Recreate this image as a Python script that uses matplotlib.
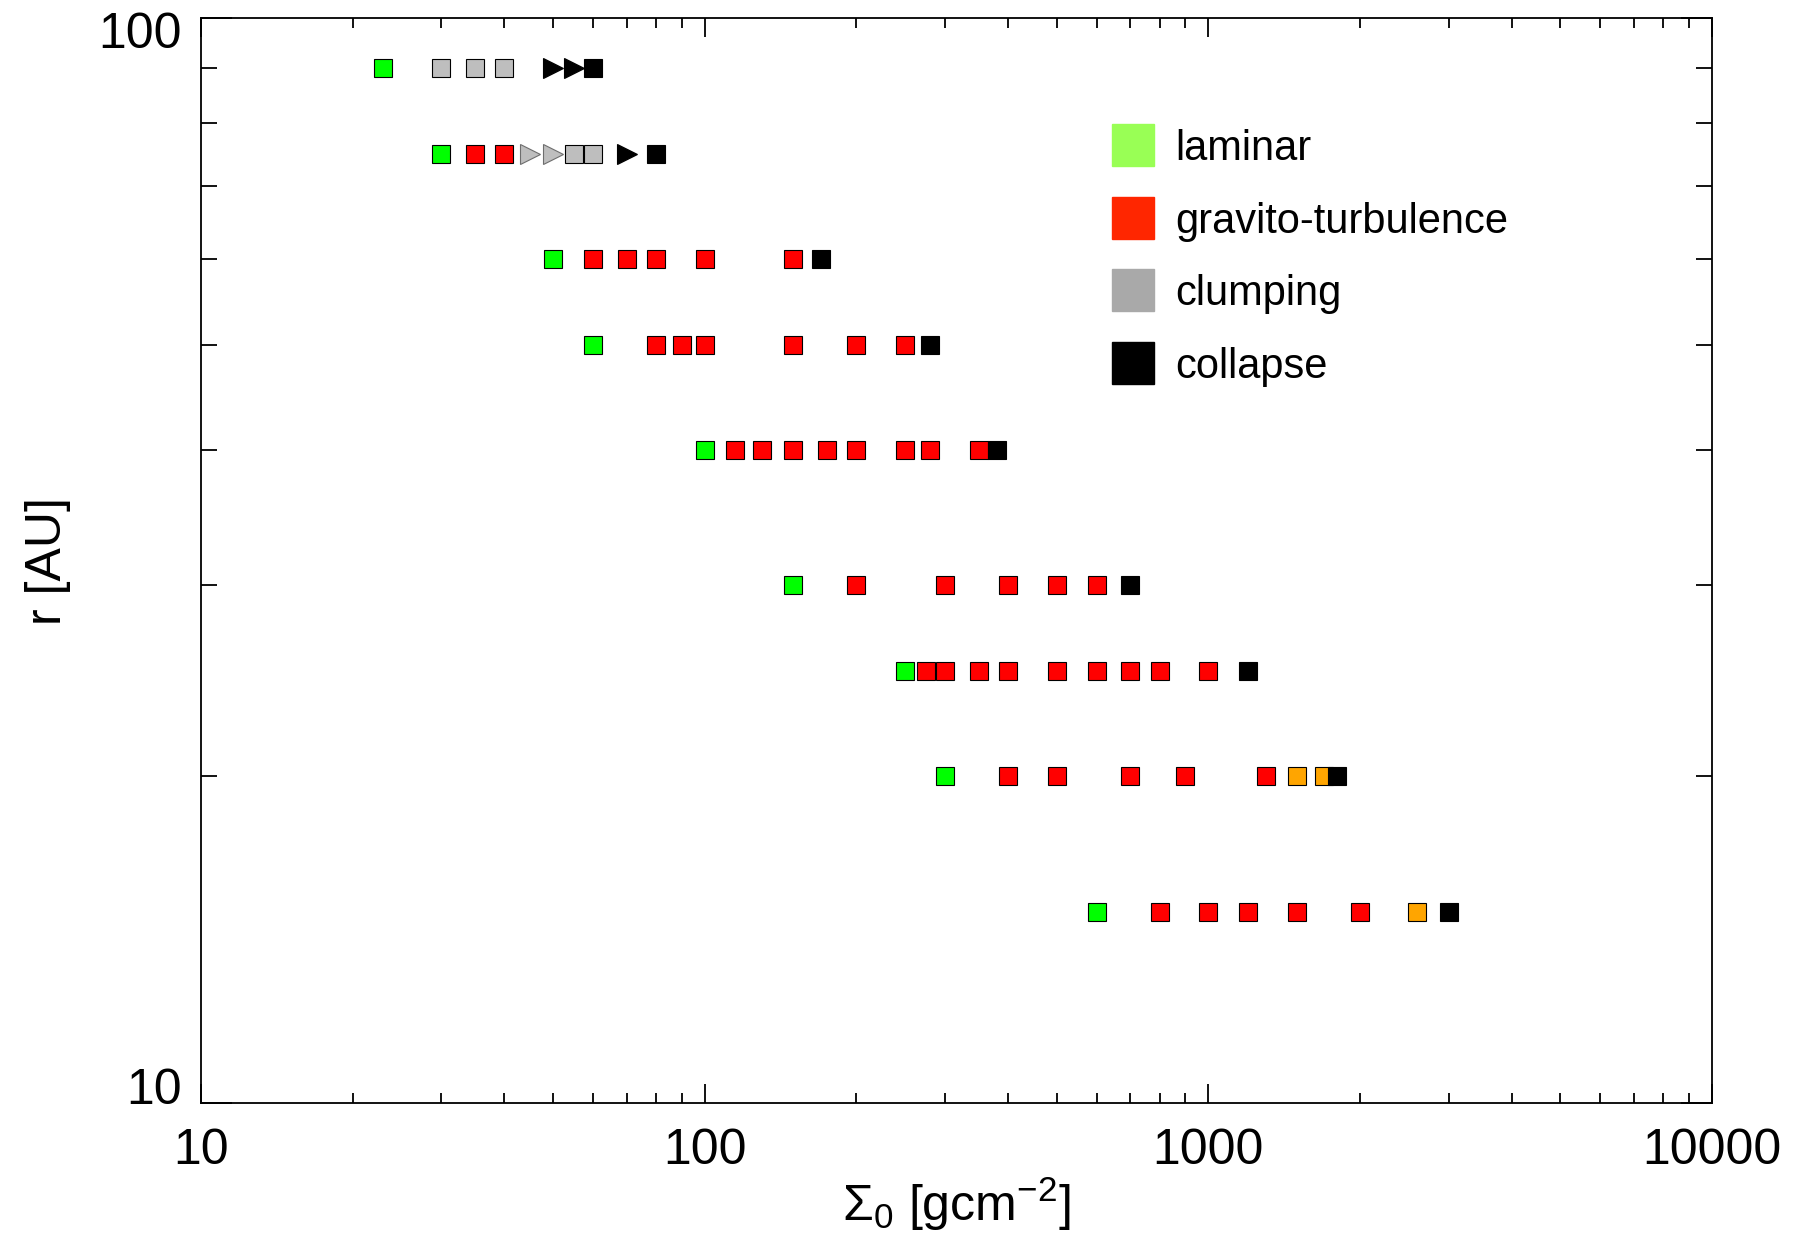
import matplotlib
matplotlib.use("Agg")
import matplotlib.pyplot as plt
import matplotlib.ticker as ticker
import matplotlib.transforms as mtransforms

plt.rcParams['font.family'] = ['Liberation Sans', 'DejaVu Sans']
plt.rcParams['mathtext.fontset'] = 'custom'
plt.rcParams['mathtext.rm'] = 'Liberation Sans'
plt.rcParams['mathtext.it'] = 'Liberation Sans'
plt.rcParams['mathtext.bf'] = 'Liberation Sans:bold'

# radii of the runs [AU]
r_rows = [90, 75, 60, 50, 40, 30, 25, 20, 15]

# surface densities per row and outcome
# L laminar, G gravito-turbulence, C clumping, X collapse, O orange
# suffix '>' = triangle marker
sigma_90 = [23, 30, 35, 40, 50, 55, 60]
state_90 = ['L', 'C', 'C', 'C', 'X>', 'X>', 'X']
sigma_75 = [30, 35, 40, 45, 50, 55, 60, 70, 80]
state_75 = ['L', 'G', 'G', 'C>', 'C>', 'C', 'C', 'X>', 'X']
sigma_60 = [50, 60, 70, 80, 100, 150, 170]
state_60 = ['L', 'G', 'G', 'G', 'G', 'G', 'X']
sigma_50 = [60, 80, 90, 100, 150, 200, 250, 280]
state_50 = ['L', 'G', 'G', 'G', 'G', 'G', 'G', 'X']
sigma_40 = [100, 115, 130, 150, 175, 200, 250, 280, 350, 380]
state_40 = ['L', 'G', 'G', 'G', 'G', 'G', 'G', 'G', 'G', 'X']
sigma_30 = [150, 200, 300, 400, 500, 600, 700]
state_30 = ['L', 'G', 'G', 'G', 'G', 'G', 'X']
sigma_25 = [250, 275, 300, 350, 400, 500, 600, 700, 800, 1000, 1200]
state_25 = ['L', 'G', 'G', 'G', 'G', 'G', 'G', 'G', 'G', 'G', 'X']
sigma_20 = [300, 400, 500, 700, 900, 1300, 1500, 1700, 1800]
state_20 = ['L', 'G', 'G', 'G', 'G', 'G', 'O', 'O', 'X']
sigma_15 = [600, 800, 1000, 1200, 1500, 2000, 2600, 3000]
state_15 = ['L', 'G', 'G', 'G', 'G', 'G', 'O', 'X']

sigma_rows = [sigma_90, sigma_75, sigma_60, sigma_50, sigma_40,
              sigma_30, sigma_25, sigma_20, sigma_15]
state_rows = [state_90, state_75, state_60, state_50, state_40,
              state_30, state_25, state_20, state_15]

colors = {'L': '#00ff00', 'G': '#ff0000', 'C': '#bebebe', 'X': '#000000', 'O': '#ffa500'}

legend_labels = ['laminar', 'gravito-turbulence', 'clumping', 'collapse']
legend_colors = ['#99ff55', '#ff2600', '#a9a9a9', '#000000']

fig = plt.figure(figsize=(18.03, 12.38), dpi=100)
ax = fig.add_axes([0.1115, 0.109, 0.838, 0.8765])

for r, sig, st in zip(r_rows, sigma_rows, state_rows):
    for s, code in zip(sig, st):
        c = colors[code[0]]
        if code.endswith('>'):
            ec = '#6e6e6e' if code[0] == 'C' else 'k'
            ax.plot(s, r, marker='>', ms=14, color=c, mec=ec, mew=0.8, ls='none')
        else:
            ax.plot(s, r, marker='s', ms=13.2, color=c, mec='k', mew=0.8, ls='none')

ax.set_xscale('log')
ax.set_yscale('log')
ax.set_xlim(10, 10000)
ax.set_ylim(10, 100)
ax.xaxis.set_major_formatter(ticker.FormatStrFormatter('%d'))
ax.yaxis.set_major_formatter(ticker.FormatStrFormatter('%d'))
ax.xaxis.set_minor_formatter(ticker.NullFormatter())
ax.yaxis.set_minor_formatter(ticker.NullFormatter())

ax.tick_params(which='both', direction='in', top=True, right=True, width=1.3,
               labelsize=36)
ax.tick_params(axis='x', which='major', length=14, pad=18)
ax.tick_params(axis='x', which='minor', length=7.2)
ax.tick_params(axis='y', which='major', length=22, pad=14)
ax.tick_params(axis='y', which='minor', length=11.5)
for sp in ax.spines.values():
    sp.set_linewidth(1.3)

ax.set_xlabel(r'$\Sigma_0$ [gcm$^{-2}$]', fontsize=36)
ax.set_ylabel('r [AU]', fontsize=36)
ax.xaxis.set_label_coords(0.5, -0.066)
ax.yaxis.set_label_coords(-0.086, 0.5)

# legend drawn by hand
leg_y = [0.8831, 0.8159, 0.7495, 0.6822]
for lab, col, yy in zip(legend_labels, legend_colors, leg_y):
    ax.plot(0.6168, yy, marker='s', ms=30, color=col, ls='none',
            transform=ax.transAxes, clip_on=False)
    ax.text(0.6445, yy - 0.0138, lab, fontsize=30, va='baseline', ha='left',
            transform=ax.transAxes)

# IDL-style nudge of the y tick labels
fig.canvas.draw()
for t in ax.yaxis.get_major_ticks():
    txt = t.label1.get_text()
    if txt == '100':
        off = mtransforms.ScaledTranslation(0, -12 / 100, fig.dpi_scale_trans)
        t.label1.set_transform(t.label1.get_transform() + off)
    elif txt == '10':
        off = mtransforms.ScaledTranslation(0, 17 / 100, fig.dpi_scale_trans)
        t.label1.set_transform(t.label1.get_transform() + off)

fig.savefig('out.png', dpi=100)
